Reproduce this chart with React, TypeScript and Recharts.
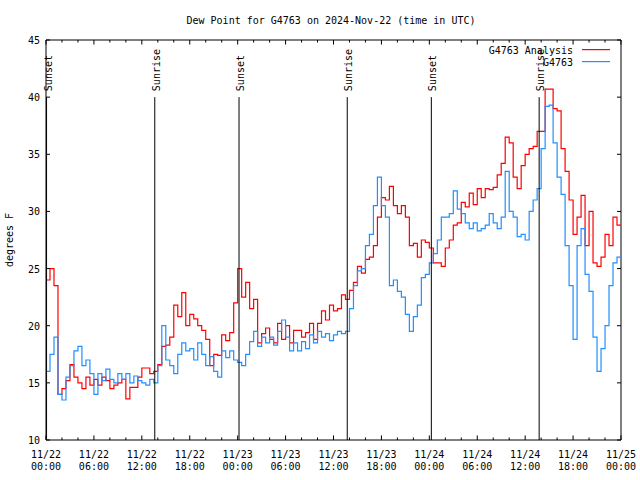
import React from 'react';
import { LineChart, Line, XAxis, YAxis, ReferenceLine, ReferenceArea, Customized } from 'recharts';

const TITLE = 'Dew Point for G4763 on 2024-Nov-22 (time in UTC)';
const Y_LABEL = 'degrees F';
const SERIES_ANALYSIS = 'G4763 Analysis';
const SERIES_STATION = 'G4763';

const STEP_HOURS = 0.5;

const analysisValues = [
  24.0, 25.0, 23.5, 14.0, 14.5, 15.2, 16.6, 15.5, 15.0, 14.5, 15.5, 14.8,
  15.3, 14.8, 15.5, 15.2, 14.5, 14.8, 15.0, 15.3, 13.6, 14.6, 14.6, 15.5,
  16.3, 16.3, 15.8, 16.0, 16.6, 18.2, 18.3, 19.0, 21.8, 20.8, 22.9, 20.0,
  21.0, 20.6, 20.0, 19.6, 18.8, 16.5, 17.5, 17.4, 19.2, 18.7, 19.4, 22.0,
  25.0, 22.5, 23.8, 21.5, 22.3, 18.5, 19.3, 19.8, 18.8, 18.5, 20.2, 18.8,
  20.0, 18.5, 19.6, 19.6, 19.0, 19.4, 20.2, 18.8, 20.2, 21.3, 20.5, 21.8,
  21.3, 21.5, 22.7, 22.3, 23.1, 23.8, 25.2, 24.6, 25.8, 26.0, 27.0, 29.5,
  31.2, 31.0, 32.2, 30.5, 29.8, 30.5, 29.5, 27.0, 27.2, 26.0, 27.5, 27.3,
  26.8, 25.5, 25.5, 25.2, 26.8, 27.5, 28.8, 29.0, 30.8, 30.4, 31.6, 30.6,
  32.0, 31.2, 32.0, 31.9, 32.1, 33.2, 34.2, 36.5, 36.0, 33.0, 32.0, 34.0,
  35.0, 35.5, 35.7, 37.0, 37.0, 40.7, 40.7, 39.0, 38.8, 35.5, 33.5, 31.0,
  28.0, 29.5, 31.4, 27.0, 30.0, 25.5, 25.2, 26.0, 28.0, 27.0, 29.5, 28.8,
  28.8,
];

const stationValues = [
  16.0, 17.5, 19.0, 14.0, 13.5, 15.5, 16.5, 17.8, 18.2, 16.5, 17.0, 15.8,
  14.0, 15.8, 15.2, 16.2, 15.3, 15.0, 15.8, 15.3, 15.8, 15.0, 15.6, 15.2,
  15.0, 14.8, 15.3, 15.0, 16.5, 20.0, 17.0, 16.5, 15.8, 17.5, 18.5, 17.8,
  18.0, 17.0, 18.5, 17.5, 16.5, 17.3, 16.0, 15.5, 17.8, 17.2, 17.8, 17.0,
  16.8, 16.5, 17.5, 18.6, 19.5, 18.2, 19.0, 18.5, 19.0, 18.3, 19.5, 20.5,
  19.0, 17.8, 18.5, 17.8, 18.6, 18.0, 19.2, 18.5, 19.5, 19.0, 19.3, 18.7,
  19.2, 19.5, 19.3, 19.5, 21.5, 23.5, 24.8, 25.0, 27.0, 28.0, 30.5, 33.0,
  30.5, 29.5, 23.5, 24.0, 23.0, 22.5, 21.0, 19.5, 20.8, 21.8, 24.2, 24.5,
  25.5, 26.3, 27.5, 29.5, 29.5, 29.8, 31.8, 30.2, 29.8, 29.0, 28.5, 29.0,
  28.3, 28.5, 28.8, 29.8, 29.0, 28.5, 29.5, 33.5, 30.0, 29.5, 27.8, 28.0,
  27.5, 30.0, 31.0, 32.0, 35.5, 39.2, 39.3, 36.0, 33.0, 31.5, 27.0, 23.5,
  18.8, 27.0, 28.5, 24.5, 23.0, 19.0, 16.0, 18.0, 20.0, 23.5, 25.5, 26.0,
  26.0,
];

const xTickHours = [0, 6, 12, 18, 24, 30, 36, 42, 48, 54, 60, 66, 72];
const xTickDates = ['11/22', '11/22', '11/22', '11/22', '11/23', '11/23', '11/23', '11/23', '11/24', '11/24', '11/24', '11/24', '11/25'];
const xTickTimes = ['00:00', '06:00', '12:00', '18:00', '00:00', '06:00', '12:00', '18:00', '00:00', '06:00', '12:00', '18:00', '00:00'];
const xMinorTickHours = [2, 4, 8, 10, 14, 16, 20, 22, 26, 28, 32, 34, 38, 40, 44, 46, 50, 52, 56, 58, 62, 64, 68, 70];
const yTicks = [10, 15, 20, 25, 30, 35, 40, 45];

const sunEventHours = [0.07, 13.62, 24.17, 37.72, 48.25, 61.75];
const sunEventLabels = ['Sunset', 'Sunrise', 'Sunset', 'Sunrise', 'Sunset', 'Sunrise'];

const data = analysisValues.map((v, i) => ({
  h: i * STEP_HOURS,
  analysis: v,
  station: stationValues[i],
}));

const FONT = '"DejaVu Sans Mono", "Liberation Mono", monospace';
const RED = '#ff0000';
const BLUE = '#1e90ff';

const XTick = (props: any) => {
  const { x, y, payload } = props;
  const i = xTickHours.indexOf(payload.value);
  return (
    <text x={x} y={y} textAnchor="middle" fontFamily={FONT} fontSize={10} fill="#000">
      <tspan x={x} dy={18}>{xTickDates[i]}</tspan>
      <tspan x={x} dy={12}>{xTickTimes[i]}</tspan>
    </text>
  );
};

const YTick = (props: any) => {
  const { x, y, payload } = props;
  return (
    <text x={x - 6} y={y + 4} textAnchor="end" fontFamily={FONT} fontSize={10} fill="#000">
      {payload.value}
    </text>
  );
};

const makeSunLabel = (text: string) => (props: any) => {
  const vb = props.viewBox || {};
  const x = (vb.x ?? 0) + 5;
  const y = (vb.y ?? 0) - 6;
  return (
    <text
      x={x}
      y={y}
      transform={`rotate(-90, ${x}, ${y})`}
      textAnchor="start"
      fontFamily={FONT}
      fontSize={10}
      fill="#000"
    >
      {text}
    </text>
  );
};

const Overlay = () => (
  <g>
    <text x={331} y={24} textAnchor="middle" fontFamily={FONT} fontSize={10} fill="#000">{TITLE}</text>
    <text x={13} y={240} transform="rotate(-90, 13, 240)" textAnchor="middle" fontFamily={FONT} fontSize={10} fill="#000">{Y_LABEL}</text>
    <text x={573} y={54} textAnchor="end" fontFamily={FONT} fontSize={10} fill="#000">{SERIES_ANALYSIS}</text>
    <rect x={582} y={49} width={28} height={1.2} style={{ fill: RED, stroke: 'none' }} />
    <text x={573} y={66} textAnchor="end" fontFamily={FONT} fontSize={10} fill="#000">{SERIES_STATION}</text>
    <rect x={582} y={61} width={28} height={1.2} style={{ fill: BLUE, stroke: 'none' }} />
  </g>
);

const MAJOR_TICK = 0.4;
const MINOR_TICK = 0.22;
const Y_TICK_LEN = 0.5;

export default function App() {
  return (
    <div style={{ position: 'absolute', left: 0, top: 0, width: 640, height: 480, background: '#fff' }}>
      <LineChart
        width={640}
        height={480}
        data={data}
        margin={{ top: 40, right: 19, bottom: 0, left: 0 }}
      >
        <XAxis
          dataKey="h"
          type="number"
          domain={[0, 72]}
          ticks={xTickHours}
          tick={<XTick />}
          tickLine={false}
          axisLine={false}
          tickSize={0}
          tickMargin={0}
          height={40}
          interval={0}
          allowDataOverflow
        />
        <YAxis
          type="number"
          domain={[10, 45]}
          ticks={yTicks}
          tick={<YTick />}
          tickLine={false}
          axisLine={false}
          tickSize={0}
          tickMargin={0}
          width={46}
          interval={0}
          allowDataOverflow
        />
        <Line
          type="stepAfter"
          dataKey="analysis"
          stroke={RED}
          strokeWidth={1.2}
          dot={false}
          isAnimationActive={false}
        />
        <Line
          type="stepAfter"
          dataKey="station"
          stroke={BLUE}
          strokeWidth={1.2}
          dot={false}
          isAnimationActive={false}
        />
        <ReferenceArea x1={0} x2={72} y1={10} y2={45} fill="none" fillOpacity={0} stroke="#000" strokeWidth={1} ifOverflow="visible" />
        {sunEventHours.map((h, i) => (
          <ReferenceLine
            key={`sun-${i}`}
            segment={[{ x: h, y: 10 }, { x: h, y: 40 }]}
            stroke="#000"
            strokeWidth={1}
            ifOverflow="visible"
            label={makeSunLabel(sunEventLabels[i])}
          />
        ))}
        {xTickHours.map((h) => (
          <ReferenceLine key={`bt-${h}`} segment={[{ x: h, y: 10 }, { x: h, y: 10 + MAJOR_TICK }]} stroke="#000" ifOverflow="visible" />
        ))}
        {xTickHours.map((h) => (
          <ReferenceLine key={`tt-${h}`} segment={[{ x: h, y: 45 }, { x: h, y: 45 - MAJOR_TICK }]} stroke="#000" ifOverflow="visible" />
        ))}
        {xMinorTickHours.map((h) => (
          <ReferenceLine key={`bm-${h}`} segment={[{ x: h, y: 10 }, { x: h, y: 10 + MINOR_TICK }]} stroke="#000" ifOverflow="visible" />
        ))}
        {xMinorTickHours.map((h) => (
          <ReferenceLine key={`tm-${h}`} segment={[{ x: h, y: 45 }, { x: h, y: 45 - MINOR_TICK }]} stroke="#000" ifOverflow="visible" />
        ))}
        {yTicks.map((v) => (
          <ReferenceLine key={`ly-${v}`} segment={[{ x: 0, y: v }, { x: Y_TICK_LEN, y: v }]} stroke="#000" ifOverflow="visible" />
        ))}
        {yTicks.map((v) => (
          <ReferenceLine key={`ry-${v}`} segment={[{ x: 72 - Y_TICK_LEN, y: v }, { x: 72, y: v }]} stroke="#000" ifOverflow="visible" />
        ))}
        <Customized component={Overlay} />
      </LineChart>
    </div>
  );
}
